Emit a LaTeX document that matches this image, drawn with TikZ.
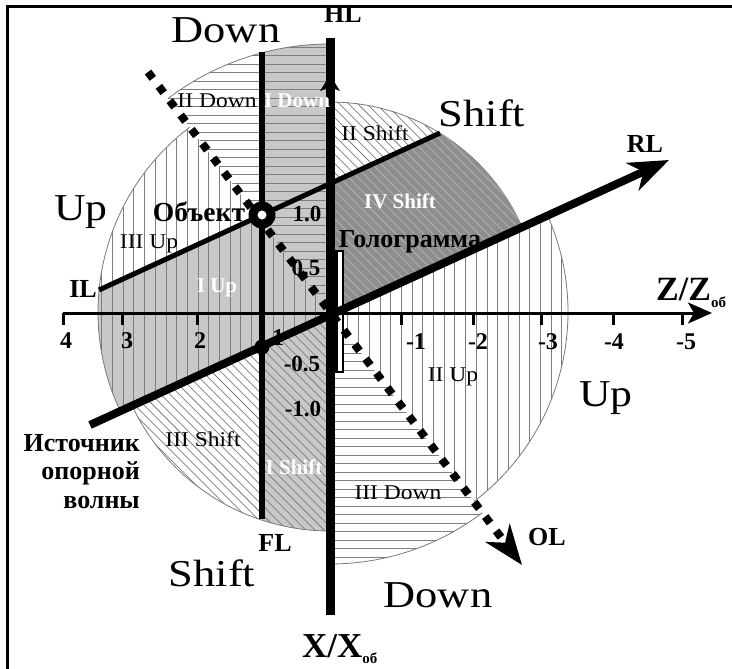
\documentclass[tikz,border=0pt]{standalone}
\usepackage{fontspec}
\setmainfont{Liberation Serif}
\usepackage{graphicx}
\usetikzlibrary{arrows.meta,calc}
\definecolor{lgray}{HTML}{C8C8C8}
\definecolor{dgray}{HTML}{8E8E8E}
\definecolor{hatchc}{HTML}{7E7E7E}
\definecolor{hatchl}{HTML}{B4B4B4}
\definecolor{arcc}{HTML}{787878}
\newcommand{\hatchH}{\foreach \yy in {30,38.5,...,590}{\draw[hatch] (60,\yy) -- (620,\yy);}}
\newcommand{\hatchV}{\foreach \xx in {91,101.7,...,580}{\draw[hatch] (\xx,30) -- (\xx,600);}}
\newcommand{\hatchD}{\foreach \cc in {-620,-610.8,...,740}{\draw[hatch] (\cc,0) -- (\cc+700,700);}}
\newcommand{\hsec}[4]{%
  \begin{scope}
    \clip (O) -- ++(#1:#3) arc[start angle=#1,end angle=#2,radius=#3] -- cycle;
    #4
  \end{scope}
  \draw[arcline] (O) ++(#1:#3) arc[start angle=#1,end angle=#2,radius=#3];
}
\tikzset{
  hatch/.style={line width=0.75pt, hatchc},
  arcline/.style={line width=0.8pt, arcc},
  bigl/.style={font=\fontsize{38}{40}\selectfont, anchor=base, inner sep=0pt},
  smalll/.style={font=\fontsize{21}{22}\selectfont, anchor=base, inner sep=0pt},
  wlab/.style={font=\bfseries\fontsize{21}{22}\selectfont, text=white, anchor=base, inner sep=0pt},
  blab/.style={font=\bfseries\fontsize{26}{28}\selectfont, anchor=base, inner sep=0pt},
  numl/.style={font=\bfseries\fontsize{23}{24}\selectfont, anchor=base, inner sep=0pt},
  tickl/.style={font=\bfseries\fontsize{24}{25}\selectfont, anchor=base, inner sep=0pt},
  bigtip/.style={-{Stealth[length=40pt,width=30pt,inset=12pt]}},
  flower/.style={insert path={(O) ++(232.8:268) arc[start angle=232.8,end angle=270,radius=268]
     -- ($(O)+(270:210)$) arc[start angle=270,end angle=335.3,radius=210]
     -- ($(O)+(335.3:238)$) arc[start angle=335.3,end angle=412.8,radius=238]
     -- ($(O)+(52.8:252)$) arc[start angle=52.8,end angle=90,radius=252]
     -- ($(O)+(90:219)$) arc[start angle=90,end angle=155.3,radius=219]
     -- ($(O)+(155.3:232)$) arc[start angle=155.3,end angle=232.8,radius=232] -- cycle}},
}
\begin{document}
\begin{tikzpicture}[x=1pt,y=1pt,yscale=-1]
\useasboundingbox (0,0) rectangle (732,669);
\coordinate (O) at (330,312);
\coordinate (HLb) at (330,615); \coordinate (HLt) at (330,38);
\coordinate (FLt) at (262,52); \coordinate (FLb) at (262,519);
\coordinate (ILl) at (99,290); \coordinate (ILr) at (440,133);
\coordinate (RLs) at (90,425); \coordinate (RLe) at (669,160);
\coordinate (OLs) at (148,72); \coordinate (OLe) at (522,565);
\coordinate (Zs) at (63,313); \coordinate (Ze) at (712,313);
% frame
\draw[line width=3.5pt] (7.5,669) -- (7.5,6.5) -- (732,6.5);
% light gray fills
\begin{scope}
  \clip[flower];
  \fill[lgray] (262,0) rectangle (330,669);
  \fill[lgray] (262,215) -- (0,335.5) -- (0,466.8) -- (262,346.3) -- cycle;
\end{scope}
% hatched sectors
\hsec{232.8}{270}{268}{\hatchH}
\hsec{270}{335.3}{210}{\hatchD}
\hsec{335.3}{412.8}{238}{\hatchV}
\hsec{52.8}{90}{252}{\hatchH}
\hsec{90}{155.3}{219}{\hatchD}
\hsec{155.3}{232.8}{232}{\hatchV}
% dark region IV Shift
\begin{scope}
  \clip[flower];
  \clip (330,183.7) -- (740,-5) -- (740,130.5) -- (330,315) -- cycle;
  \fill[dgray] (300,0) rectangle (732,400);
  \tikzset{hatch/.style={line width=0.75pt, hatchl}}
  \hatchD
\end{scope}
% hologram
\node[draw, line width=2.5pt, fill=white, minimum width=6.5pt, minimum height=121pt, inner sep=0pt] (holo) at (339.75,311.5) {};
% Z axis
\draw[line width=3pt, -{Stealth[length=24pt,width=21pt,inset=6pt]}] (Zs) -- (Ze);
\foreach \x in {63,122,197,262,401,473,541,613,682} \draw[line width=3pt] (\x,313) -- (\x,325);
% lines
\draw[line width=5.5pt] (FLt) -- (FLb);
\draw[line width=5pt] (ILl) -- (ILr);
\draw[line width=9pt] (HLb) -- (HLt);
\fill (320,91) -- (330,75) -- (340,91) -- (330,87) -- cycle;
\draw[line width=8pt, bigtip] (RLs) -- (RLe);
\draw[line width=8pt, dash pattern=on 8pt off 10pt, bigtip] (OLs) -- (OLe);
% object and source
\node[circle, fill=black, minimum size=27pt, inner sep=0pt] (objn) at (262,215) {};
\node[circle, fill=white, minimum size=9pt, inner sep=0pt] (objc) at (objn) {};
\node[circle, fill=black, minimum size=15pt, inner sep=0pt] (srcn) at (262,347) {};
% big labels
\node[bigl] (dT) at (226,43) {\scalebox{1.17}[1]{Down}};
\node[bigl] (uL) at (81,220) {\scalebox{1.15}[1]{Up}};
\node[bigl] (sR) at (482,127) {\scalebox{1.17}[1]{Shift}};
\node[bigl] (uR) at (606,406) {\scalebox{1.15}[1]{Up}};
\node[bigl] (dB) at (438,607) {\scalebox{1.17}[1]{Down}};
\node[bigl] (sB) at (212,586) {\scalebox{1.17}[1]{Shift}};
% region labels
\node[smalll] (l2d) at (217,108) {\scalebox{1.12}[1]{II Down}};
\node[smalll] (l3u) at (149,248) {\scalebox{1.12}[1]{III Up}};
\node[smalll] (l2s) at (375,140) {\scalebox{1.12}[1]{II Shift}};
\node[smalll] (l2u) at (453,381) {\scalebox{1.12}[1]{II Up}};
\node[smalll] (l3s) at (203,446) {\scalebox{1.12}[1]{III Shift}};
\node[smalll] (l3d) at (398,499) {\scalebox{1.12}[1]{III Down}};
\node[wlab] (l1d) at (297,108) {I Down};
\node[wlab] (l4s) at (400,208) {IV Shift};
\node[wlab] (l1u) at (217,292) {I Up};
\node[wlab] (l1s) at (294,474) {I Shift};
% bold labels
\node[blab, font=\bfseries\fontsize{27.5}{28}\selectfont] (lobj) at (199,222) {Объект};
\node[blab] (lholo) at (410,247) {Голограмма};
\node[blab] (lHL) at (343,23) {HL};
\node[blab] (lRL) at (645,153) {RL};
\node[blab] (lOL) at (547,545) {OL};
\node[blab] (lFL) at (275,551) {FL};
\node[blab] (lIL) at (83,297) {IL};
\node[blab, anchor=base east] (src1) at (140,451) {Источник};
\node[blab, anchor=base east] (src2) at (140,479) {опорной};
\node[blab, anchor=base east] (src3) at (140,508) {волны};
% X values
\node[numl] (x1) at (307,222) {1.0};
\node[numl] (x2) at (306,275) {0.5};
\node[numl] (x3) at (302,371) {-0.5};
\node[numl] (x4) at (303,416) {-1.0};
% Z values
\node[tickl] (z4) at (66,348) {4};
\node[tickl] (z3) at (127,348) {3};
\node[tickl] (z2) at (200,348) {2};
\node[tickl] (z1) at (278,345) {1};
\node[tickl] (zm1) at (416,349) {-1};
\node[tickl] (zm2) at (478,349) {-2};
\node[tickl] (zm3) at (548,349) {-3};
\node[tickl] (zm4) at (614,349) {-4};
\node[tickl] (zm5) at (686,349) {-5};
% axis titles
\node[anchor=base west, inner sep=0pt, font=\bfseries\fontsize{34}{36}\selectfont] (zlab) at (656,300) {Z/Z\raisebox{-7pt}{\fontsize{15}{16}\selectfont об}};
\node[anchor=base west, inner sep=0pt, font=\bfseries\fontsize{35}{36}\selectfont] (xlab) at (302,657) {X/X\raisebox{-6pt}{\fontsize{15}{16}\selectfont об}};
\end{tikzpicture}
\end{document}
